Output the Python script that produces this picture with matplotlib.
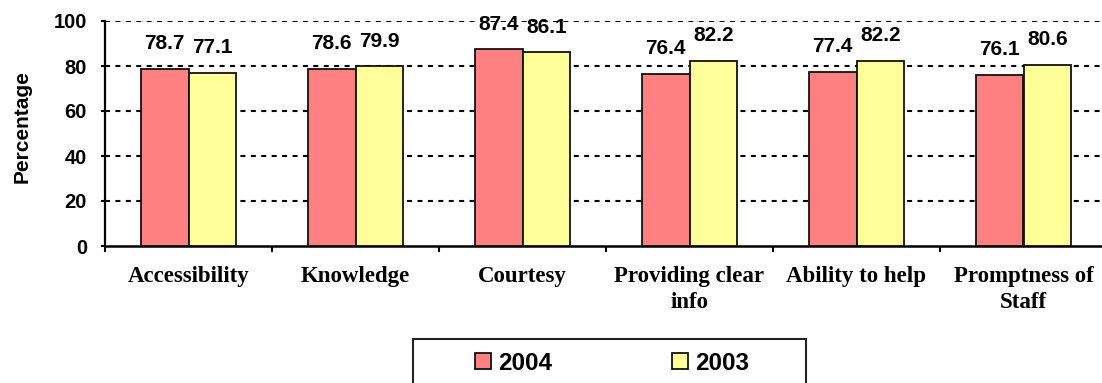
import matplotlib
matplotlib.use("Agg")
import matplotlib.pyplot as plt
from matplotlib.patches import Rectangle
import numpy as np

categories = ["Accessibility", "Knowledge", "Courtesy", "Providing clear\ninfo",
              "Ability to help", "Promptness of\nStaff"]
values_2004 = [78.7, 78.6, 87.4, 76.4, 77.4, 76.1]
values_2003 = [77.1, 79.9, 86.1, 82.2, 82.2, 80.6]
series_names = ["2004", "2003"]
y_ticks = [0, 20, 40, 60, 80, 100]

W, H = 1102, 383
fig = plt.figure(figsize=(W / 100, H / 100), dpi=100)
ax = fig.add_axes([105 / W, (H - 246) / H, 1002 / W, 225 / H])

x = np.arange(len(categories))
bw = 0.287
sans = ["Liberation Sans", "DejaVu Sans"]
serif = ["Liberation Serif", "DejaVu Serif"]

b1 = ax.bar(x - bw / 2, values_2004, bw, color="#FF8080", edgecolor="#111111",
            linewidth=1.3, zorder=3, label=series_names[0])
b2 = ax.bar(x + bw / 2, values_2003, bw, color="#FFFF99", edgecolor="#111111",
            linewidth=1.3, zorder=3, label=series_names[1])

for bars, vals in ((b1, values_2004), (b2, values_2003)):
    for rect, v in zip(bars, vals):
        ax.annotate(f"{v:.1f}", (rect.get_x() + rect.get_width() / 2, v),
                    xytext=(0, 14.2), textcoords="offset points",
                    ha="center", va="baseline", fontsize=15,
                    fontweight="bold", family=sans, zorder=4)

ax.set_ylim(0, 100)
ax.set_xlim(-0.5, 5.5)
ax.set_yticks(y_ticks)
ax.set_yticklabels([str(t) for t in y_ticks], fontsize=14.5, fontweight="bold",
                   family=sans)
for t in y_ticks[1:]:
    ax.axhline(t, color="black", linewidth=1.5, linestyle=(0, (2.4, 2.6)), zorder=1)

ax.set_xticks(np.arange(-0.5, 5.6, 1.0))
ax.set_xticklabels([])
ax.set_xticks(x, minor=True)
ax.set_xticklabels(categories, minor=True, fontsize=16.5, fontweight="bold",
                   family=serif, linespacing=1.3)
ax.tick_params(axis="x", which="minor", length=0, pad=14.5)
ax.tick_params(axis="x", which="major", length=4.3, width=1.5, direction="out")
ax.tick_params(axis="y", length=3, width=1.5, direction="out", pad=10)

for s in ("top", "right"):
    ax.spines[s].set_visible(False)
ax.spines["left"].set_linewidth(1.6)
ax.spines["bottom"].set_linewidth(1.8)

ax.set_ylabel("Percentage", fontsize=15, fontweight="bold", family=sans)
ax.yaxis.set_label_coords(-73 / 1002, 0.533)

leg = fig.legend(handles=[b1, b2], labels=series_names, loc="center",
                 bbox_to_anchor=(612 / W, 1 - 363 / H), ncol=2, frameon=False,
                 handlelength=0.66, handleheight=0.66, handletextpad=0.29,
                 columnspacing=4.9, borderpad=0, borderaxespad=0,
                 prop={"family": sans, "weight": "bold", "size": 17.5})
fig.patches.append(Rectangle((413 / W, -8 / H), 393 / W, 52 / H,
                             transform=fig.transFigure, fill=False,
                             edgecolor="#222222", linewidth=1.5))

fig.savefig("out.png", dpi=100)
